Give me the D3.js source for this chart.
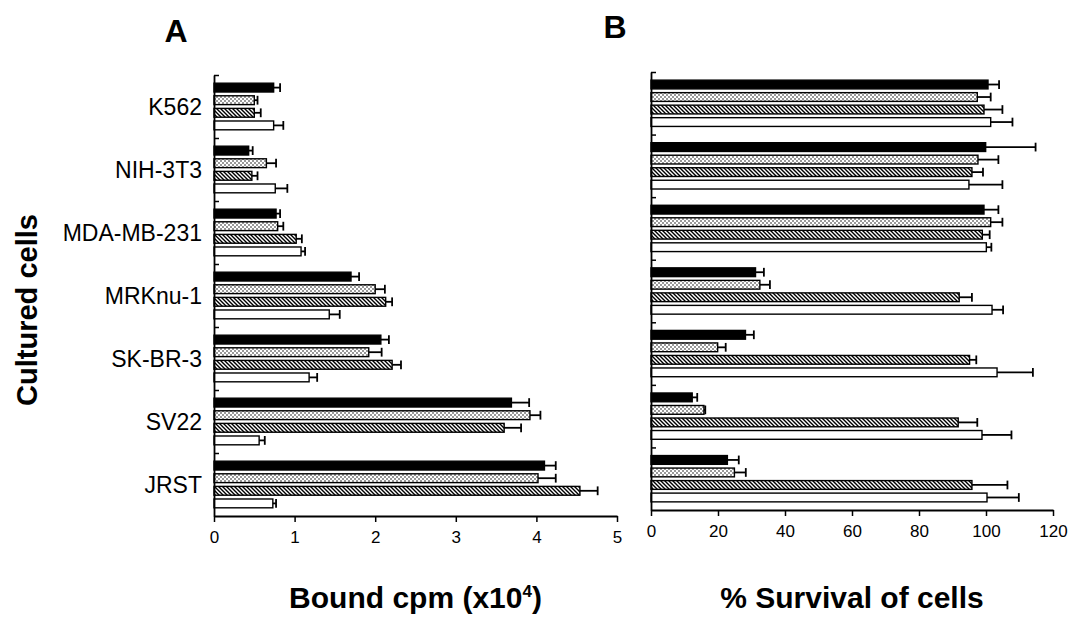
<!DOCTYPE html>
<html>
<head>
<meta charset="utf-8">
<script src="https://cdn.jsdelivr.net/npm/d3@7"></script>
<style>
  body { margin: 0; background: #fff; }
  svg text { font-family: "Liberation Sans", Arial, Helvetica, sans-serif; fill: #000; }
</style>
</head>
<body>
<div id="chart"></div>
<script>
'use strict';

// ------------------------------------
// DATA
// ------------------------------------
const cells = ["K562", "NIH-3T3", "MDA-MB-231", "MRKnu-1", "SK-BR-3", "SV22", "JRST"];
const seriesKeys = ["solid", "dotted", "hatched", "open"];

// Panel A: bound cpm (x10^4), mean and error bar length
const boundSolid   = [0.74, 0.43, 0.77, 1.70, 2.07, 3.69, 4.10];
const boundDotted  = [0.50, 0.65, 0.79, 2.00, 1.92, 3.92, 4.02];
const boundHatched = [0.50, 0.47, 1.02, 2.13, 2.21, 3.60, 4.54];
const boundOpen    = [0.74, 0.76, 1.08, 1.43, 1.18, 0.56, 0.73];

const boundSolidErr   = [0.08, 0.05, 0.05, 0.10, 0.10, 0.22, 0.14];
const boundDottedErr  = [0.04, 0.12, 0.07, 0.12, 0.16, 0.13, 0.22];
const boundHatchedErr = [0.08, 0.07, 0.07, 0.08, 0.11, 0.21, 0.22];
const boundOpenErr    = [0.12, 0.15, 0.05, 0.13, 0.10, 0.07, 0.04];

// Panel B: % survival of cells
const survSolid   = [100.6, 99.9, 99.4, 31.2, 28.2, 12.3, 22.8];
const survDotted  = [97.4, 97.6, 101.4, 32.5, 19.9, 15.8, 24.9];
const survHatched = [99.4, 95.8, 98.9, 92.0, 95.1, 91.7, 95.8];
const survOpen    = [101.4, 94.9, 100.1, 101.8, 103.3, 98.8, 100.3];

const survSolidErr   = [3.3, 14.9, 4.3, 2.5, 2.5, 1.5, 3.4];
const survDottedErr  = [4.0, 6.1, 3.5, 3.0, 2.4, 0.4, 3.4];
const survHatchedErr = [5.5, 3.3, 2.2, 3.8, 2.0, 5.7, 10.6];
const survOpenErr    = [6.5, 10.0, 1.5, 3.3, 10.7, 8.8, 9.5];

const boundTicks = [0, 1, 2, 3, 4, 5];
const survTicks = [0, 20, 40, 60, 80, 100, 120];

// build rows: one per cell x series
function buildRows(means, errs) {
  return cells.flatMap((cell, i) =>
    seriesKeys.map((key, k) => ({ cell, key, value: means[k][i], err: errs[k][i] }))
  );
}

const boundRows = buildRows(
  [boundSolid, boundDotted, boundHatched, boundOpen],
  [boundSolidErr, boundDottedErr, boundHatchedErr, boundOpenErr]
);
const survRows = buildRows(
  [survSolid, survDotted, survHatched, survOpen],
  [survSolidErr, survDottedErr, survHatchedErr, survOpenErr]
);

// ------------------------------------
// SVG
// ------------------------------------
const width = 1071;
const height = 617;

const svg = d3.select("#chart")
  .append("svg")
  .attr("width", width)
  .attr("height", height);

// fill patterns
const defs = svg.append("defs");

const dots = defs.append("pattern")
  .attr("id", "dots")
  .attr("patternUnits", "userSpaceOnUse")
  .attr("width", 4)
  .attr("height", 4);
dots.append("rect").attr("width", 4).attr("height", 4).attr("fill", "#fff");
dots.append("circle").attr("cx", 1).attr("cy", 1).attr("r", 0.75).attr("fill", "#000");
dots.append("circle").attr("cx", 3).attr("cy", 3).attr("r", 0.75).attr("fill", "#000");

const hatch = defs.append("pattern")
  .attr("id", "hatch")
  .attr("patternUnits", "userSpaceOnUse")
  .attr("width", 4)
  .attr("height", 4);
hatch.append("rect").attr("width", 4).attr("height", 4).attr("fill", "#fff");
hatch.append("path")
  .attr("d", "M-1,-1L5,5M3,-1L5,1M-1,3L1,5")
  .attr("stroke", "#000")
  .attr("stroke-width", 1.4);

const fillFor = {
  solid: "#000",
  dotted: "url(#dots)",
  hatched: "url(#hatch)",
  open: "#fff"
};

// ------------------------------------
// PANEL
// ------------------------------------
function drawPanel(rows, opt) {
  const g = svg.append("g");

  const x = d3.scaleLinear().domain(opt.domain).range([opt.left, opt.right]);
  const yGroup = d3.scaleBand().domain(cells).range([opt.top, opt.bottom]).padding(0);
  const ySub = d3.scaleBand()
    .domain(seriesKeys)
    .range([0, yGroup.bandwidth()])
    .paddingInner(0.3)
    .paddingOuter(0.65);

  // bars
  g.append("g")
    .selectAll("rect")
    .data(rows)
    .join("rect")
    .attr("x", x(0))
    .attr("y", d => yGroup(d.cell) + ySub(d.key))
    .attr("width", d => x(d.value) - x(0))
    .attr("height", ySub.bandwidth())
    .attr("fill", d => fillFor[d.key])
    .attr("stroke", "#000")
    .attr("stroke-width", 1.4);

  // error bars
  const bh = ySub.bandwidth();
  const eb = g.append("g")
    .selectAll("g")
    .data(rows)
    .join("g")
    .attr("stroke", "#000")
    .attr("stroke-width", 1.8);

  eb.append("line")
    .attr("x1", d => x(d.value))
    .attr("x2", d => x(d.value + d.err))
    .attr("y1", d => yGroup(d.cell) + ySub(d.key) + bh / 2)
    .attr("y2", d => yGroup(d.cell) + ySub(d.key) + bh / 2);

  eb.append("line")
    .attr("x1", d => x(d.value + d.err))
    .attr("x2", d => x(d.value + d.err))
    .attr("y1", d => yGroup(d.cell) + ySub(d.key))
    .attr("y2", d => yGroup(d.cell) + ySub(d.key) + bh);

  // x axis
  const xAxis = g.append("g")
    .attr("transform", `translate(0, ${opt.bottom})`)
    .call(d3.axisBottom(x)
      .tickValues(opt.ticks)
      .tickFormat(d3.format("d"))
      .tickSizeInner(6)
      .tickSizeOuter(0)
      .tickPadding(9));
  xAxis.select(".domain").attr("stroke-width", 1.8);
  xAxis.selectAll(".tick line").attr("stroke-width", 1.5);
  xAxis.selectAll("text").attr("font-size", 17).attr("font-family", null);

  // y axis: small inward ticks at group boundaries
  const yEdge = d3.scaleLinear().domain([0, cells.length]).range([opt.top, opt.bottom]);
  const yAxis = g.append("g")
    .attr("transform", `translate(${x(0)}, 0)`)
    .call(d3.axisLeft(yEdge)
      .tickValues(d3.range(cells.length))
      .tickSizeInner(-5)
      .tickSizeOuter(0)
      .tickFormat(""));
  yAxis.select(".domain").attr("stroke-width", 1.8);
  yAxis.selectAll(".tick line").attr("stroke-width", 1.5);

  // category labels
  if (opt.labels) {
    g.append("g")
      .selectAll("text")
      .data(cells)
      .join("text")
      .attr("x", x(0) - 12)
      .attr("y", d => yGroup(d) + yGroup.bandwidth() / 2)
      .attr("dy", "0.36em")
      .attr("text-anchor", "end")
      .attr("font-size", 23)
      .text(d => d);
  }

  // panel letter
  g.append("text")
    .attr("x", opt.letterX)
    .attr("y", opt.letterY)
    .attr("text-anchor", "middle")
    .attr("font-size", 32)
    .attr("font-weight", "bold")
    .text(opt.letter);

  // axis title
  const title = g.append("text")
    .attr("x", (opt.left + opt.right) / 2)
    .attr("y", 608)
    .attr("text-anchor", "middle")
    .attr("font-size", 30)
    .attr("font-weight", "bold");
  title.append("tspan").text(opt.title);
  if (opt.sup) {
    title.append("tspan").attr("font-size", 17).attr("dy", -11).text(opt.sup);
    title.append("tspan").attr("dy", 11).text(")");
  }
}

drawPanel(boundRows, {
  domain: [0, 5], ticks: boundTicks,
  left: 214, right: 617, top: 75, bottom: 516,
  labels: true, letter: "A", letterX: 176, letterY: 42,
  title: "Bound cpm (x10", sup: "4"
});

drawPanel(survRows, {
  domain: [0, 120], ticks: survTicks,
  left: 651, right: 1053, top: 72, bottom: 510,
  labels: false, letter: "B", letterX: 615, letterY: 38,
  title: "% Survival of cells"
});

// shared y title
svg.append("text")
  .attr("transform", "translate(37, 310) rotate(-90)")
  .attr("text-anchor", "middle")
  .attr("font-size", 29)
  .attr("font-weight", "bold")
  .text("Cultured cells");
</script>
</body>
</html>
